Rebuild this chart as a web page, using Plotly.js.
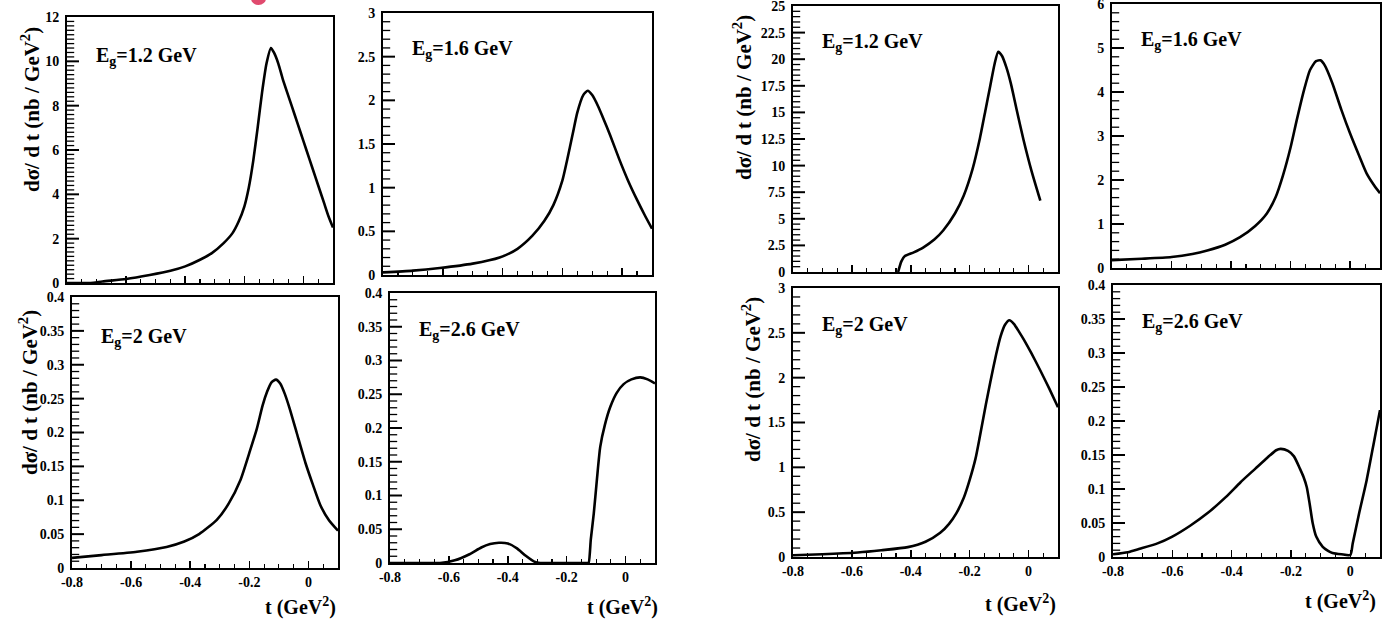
<!DOCTYPE html>
<html>
<head>
<meta charset="utf-8">
<script src="https://cdn.plot.ly/plotly-3.0.1.min.js"></script>
<style>html,body{margin:0;padding:0;background:#fff;}#chart{width:1392px;height:619px;}</style>
</head>
<body>
<div id="chart"></div>
<script>
// ---- Data ----
const tRange = [-0.8, 0.1];
const xTickVals = [-0.8, -0.6, -0.4, -0.2, 0];
const xTickText = ["-0.8", "-0.6", "-0.4", "-0.2", "0"];
const energyLabels = ["1.2", "1.6", "2", "2.6", "1.2", "1.6", "2", "2.6"];
const yMax = [12, 3, 0.4, 0.4, 25, 6, 3, 0.4];
const yDtick = [2, 0.5, 0.05, 0.05, 2.5, 1, 0.5, 0.05];
const yMinor = [0.2, 0.1, 0.01, 0.01, 0.5, 0.2, 0.1, 0.01];

// Left group
const t1 = [-0.8, -0.72, -0.68, -0.6, -0.52, -0.45, -0.4, -0.35, -0.31, -0.27, -0.24, -0.22, -0.2, -0.185, -0.17, -0.155, -0.14, -0.125, -0.11, -0.1, -0.085, -0.07, -0.05, -0.03, -0.01, 0.01, 0.03, 0.05, 0.07, 0.085, 0.1];
const v1 = [0, 0, 0.07, 0.18, 0.36, 0.55, 0.75, 1.05, 1.35, 1.8, 2.25, 2.75, 3.45, 4.3, 5.5, 7.0, 8.6, 9.9, 10.6, 10.4, 9.9, 9.2, 8.4, 7.6, 6.8, 6.0, 5.2, 4.4, 3.6, 3.0, 2.5];
const t2 = [-0.8, -0.7, -0.61, -0.5, -0.41, -0.35, -0.3, -0.26, -0.23, -0.2, -0.185, -0.165, -0.15, -0.13, -0.115, -0.1, -0.08, -0.065, -0.04, -0.01, 0.02, 0.05, 0.075, 0.1];
const v2 = [0.03, 0.05, 0.08, 0.13, 0.2, 0.3, 0.45, 0.62, 0.8, 1.08, 1.3, 1.62, 1.86, 2.06, 2.11, 2.06, 1.93, 1.81, 1.6, 1.33, 1.08, 0.86, 0.69, 0.53];
const t3 = [-0.8, -0.7, -0.58, -0.48, -0.42, -0.37, -0.31, -0.27, -0.23, -0.2, -0.175, -0.155, -0.14, -0.125, -0.11, -0.095, -0.08, -0.064, -0.04, -0.01, 0.015, 0.04, 0.07, 0.1];
const v3 = [0.015, 0.019, 0.024, 0.031, 0.039, 0.05, 0.071, 0.095, 0.13, 0.17, 0.205, 0.24, 0.26, 0.274, 0.278, 0.272, 0.257, 0.236, 0.2, 0.155, 0.123, 0.093, 0.07, 0.055];
const t4 = [-0.8, -0.7, -0.63, -0.58, -0.53, -0.49, -0.46, -0.43, -0.4, -0.37, -0.34, -0.31, -0.29, -0.2, -0.13, -0.1255, -0.118, -0.108, -0.097, -0.086, -0.07, -0.052, -0.03, -0.0065, 0.02, 0.05, 0.075, 0.1];
const v4 = [0, 0, 0, 0.004, 0.013, 0.023, 0.028, 0.03, 0.029, 0.022, 0.011, 0.002, 0, 0, 0, 0, 0.035, 0.073, 0.125, 0.172, 0.205, 0.231, 0.252, 0.265, 0.272, 0.275, 0.272, 0.266];
// Right group
const t5 = [-0.443, -0.432, -0.42, -0.39, -0.358, -0.32, -0.29, -0.25, -0.22, -0.19, -0.165, -0.145, -0.13, -0.115, -0.103, -0.09, -0.075, -0.06, -0.04, -0.017, 0.01, 0.04];
const v5 = [0, 1.0, 1.5, 1.85, 2.3, 3.05, 3.9, 5.5, 7.2, 9.7, 12.6, 15.4, 17.5, 19.6, 20.7, 20.3, 19.2, 17.7, 15.2, 12.4, 9.5, 6.7];
const t6 = [-0.8, -0.7, -0.6, -0.53, -0.48, -0.42, -0.37, -0.32, -0.28, -0.25, -0.226, -0.2, -0.18, -0.155, -0.135, -0.115, -0.1, -0.085, -0.06, -0.03, 0.0, 0.03, 0.055, 0.08, 0.1];
const v6 = [0.18, 0.21, 0.25, 0.32, 0.4, 0.53, 0.7, 0.95, 1.24, 1.62, 2.1, 2.75, 3.35, 4.05, 4.5, 4.7, 4.72, 4.6, 4.2, 3.6, 3.05, 2.55, 2.15, 1.88, 1.7];
const t7 = [-0.8, -0.7, -0.58, -0.5, -0.41, -0.35, -0.3, -0.27, -0.245, -0.22, -0.2, -0.18, -0.165, -0.145, -0.13, -0.11, -0.095, -0.08, -0.065, -0.05, -0.03, -0.017, 0.01, 0.04, 0.07, 0.1];
const v7 = [0.02, 0.03, 0.05, 0.075, 0.11, 0.17, 0.27, 0.37, 0.49, 0.66, 0.86, 1.1, 1.35, 1.7, 1.95, 2.26, 2.46, 2.59, 2.64, 2.6, 2.5, 2.43, 2.27, 2.08, 1.88, 1.67];
const t8 = [-0.8, -0.75, -0.71, -0.65, -0.6, -0.54, -0.48, -0.42, -0.37, -0.32, -0.28, -0.25, -0.235, -0.21, -0.19, -0.17, -0.158, -0.147, -0.137, -0.127, -0.115, -0.093, -0.075, -0.06, -0.03, 0.0, 0.008, 0.03, 0.055, 0.08, 0.1];
const v8 = [0.004, 0.007, 0.012, 0.02, 0.03, 0.046, 0.065, 0.088, 0.11, 0.13, 0.146, 0.157, 0.159, 0.156, 0.148, 0.13, 0.118, 0.103, 0.078, 0.05, 0.03, 0.015, 0.009, 0.006, 0.004, 0.003, 0.02, 0.065, 0.113, 0.17, 0.216];

const tSeries = [t1, t2, t3, t4, t5, t6, t7, t8];
const vSeries = [v1, v2, v3, v4, v5, v6, v7, v8];

// ---- Layout geometry (pixels) ----
const W = 1392, H = 619;
const boxes = [
  [67, 333, 17, 283], [383, 652, 13, 275], [72, 338, 297, 568], [390, 655, 293, 563],
  [793, 1058, 6, 272], [1112, 1380, 4, 268], [793, 1058, 288, 557], [1113, 1380, 285, 557]
];
const bottomRow = [false, false, true, true, false, false, true, true];
const serif = "'Liberation Serif', 'Times New Roman', Times, serif";

const data = [];
const layout = {
  width: W, height: H, margin: {l: 0, r: 0, t: 0, b: 0},
  paper_bgcolor: "#fff", plot_bgcolor: "#fff", showlegend: false,
  font: {family: serif, color: "#000"},
  annotations: [],
  shapes: [{
    type: "circle", xref: "paper", yref: "paper", layer: "above",
    x0: 251 / W, x1: 266 / W, y0: 1 - 5 / H, y1: 1 + 8 / H,
    fillcolor: "#e04a6e", line: {width: 0}
  }]
};

for (let i = 0; i < 8; i++) {
  const n = i + 1;
  const xa = n === 1 ? "x" : "x" + n;
  const ya = n === 1 ? "y" : "y" + n;
  const b = boxes[i];
  const pw = b[1] - b[0];
  const unitPerPx = (tRange[1] - tRange[0]) / pw;

  // y-axis tick marks (inside the frame), as horizontal line markers at the tick values
  const majX = [], majY = [], minX = [], minY = [];
  const nMinor = Math.round(yMax[i] / yMinor[i]);
  for (let k = 1; k < nMinor; k++) {
    const val = +(k * yMinor[i]).toFixed(4);
    const r = val / yDtick[i];
    if (Math.abs(r - Math.round(r)) < 1e-6) { majX.push(tRange[0] + 5 * unitPerPx); majY.push(val); }
    else { minX.push(tRange[0] + 3 * unitPerPx); minY.push(val); }
  }
  data.push({
    x: majX, y: majY, xaxis: xa, yaxis: ya, type: "scatter", mode: "markers", cliponaxis: false,
    marker: {symbol: "line-ew", size: 10, color: "#000", line: {color: "#000", width: 2}}, hoverinfo: "skip"
  });
  data.push({
    x: minX, y: minY, xaxis: xa, yaxis: ya, type: "scatter", mode: "markers", cliponaxis: false,
    marker: {symbol: "line-ew", size: 6, color: "#000", line: {color: "#000", width: 1.3}}, hoverinfo: "skip"
  });

  data.push({
    x: tSeries[i], y: vSeries[i], xaxis: xa, yaxis: ya, type: "scatter", mode: "lines",
    line: {color: "#000", width: 2.6, shape: "spline", smoothing: 0.6}, hoverinfo: "skip"
  });

  layout["xaxis" + (n === 1 ? "" : n)] = {
    domain: [b[0] / W, b[1] / W], anchor: ya, range: tRange,
    showline: true, linecolor: "#000", linewidth: 2, mirror: true,
    showgrid: false, zeroline: false,
    tickmode: "array", tickvals: xTickVals, ticktext: xTickText,
    ticks: "inside", ticklen: 7, tickwidth: 1.5, tickcolor: "#000",
    showticklabels: bottomRow[i],
    tickfont: {family: serif, size: 14, color: "#000", weight: "bold"},
    minor: {ticks: "inside", ticklen: 4, tickmode: "linear", tick0: 0, dtick: 0.05, tickcolor: "#000", tickwidth: 1.2}
  };
  layout["yaxis" + (n === 1 ? "" : n)] = {
    domain: [1 - b[3] / H, 1 - b[2] / H], anchor: xa, range: [0, yMax[i]],
    showline: true, linecolor: "#000", linewidth: 2, mirror: true,
    showgrid: false, zeroline: false,
    tickmode: "linear", tick0: 0, dtick: yDtick[i], ticks: "",
    tickfont: {family: serif, size: 14, color: "#000", weight: "bold"},
    ticklabelstandoff: 3, ticklabeloverflow: "allow"
  };
  layout.annotations.push({
    xref: "paper", yref: "paper", x: (b[0] + 27) / W, y: 1 - (b[2] + (i % 2 === 0 && i < 4 ? 40 : 37)) / H,
    xanchor: "left", yanchor: "middle", showarrow: false,
    text: "E<sub>g</sub>=" + energyLabels[i] + " GeV",
    font: {family: serif, size: 20, color: "#000", weight: "bold"}
  });
}

// Axis titles as annotations
const yTitle = "d\u03c3/ d t (nb / GeV<sup>2</sup>)";
const yTitlePos = [[30, 110], [28, 393], [742, 98], [752, 380]];
yTitlePos.forEach(p => layout.annotations.push({
  xref: "paper", yref: "paper", x: p[0] / W, y: 1 - p[1] / H, xanchor: "center", yanchor: "middle",
  textangle: -90, showarrow: false, text: yTitle,
  font: {family: serif, size: 21, color: "#000", weight: "bold"}
}));
const xTitle = "t (GeV<sup>2</sup>)";
const xTitlePos = [[300, 606], [622, 606], [1020, 603], [1340, 600]];
xTitlePos.forEach(p => layout.annotations.push({
  xref: "paper", yref: "paper", x: p[0] / W, y: 1 - p[1] / H, xanchor: "center", yanchor: "middle",
  showarrow: false, text: xTitle,
  font: {family: serif, size: 20, color: "#000", weight: "bold"}
}));

Plotly.newPlot("chart", data, layout, {displayModeBar: false, staticPlot: true});
</script>
</body>
</html>
